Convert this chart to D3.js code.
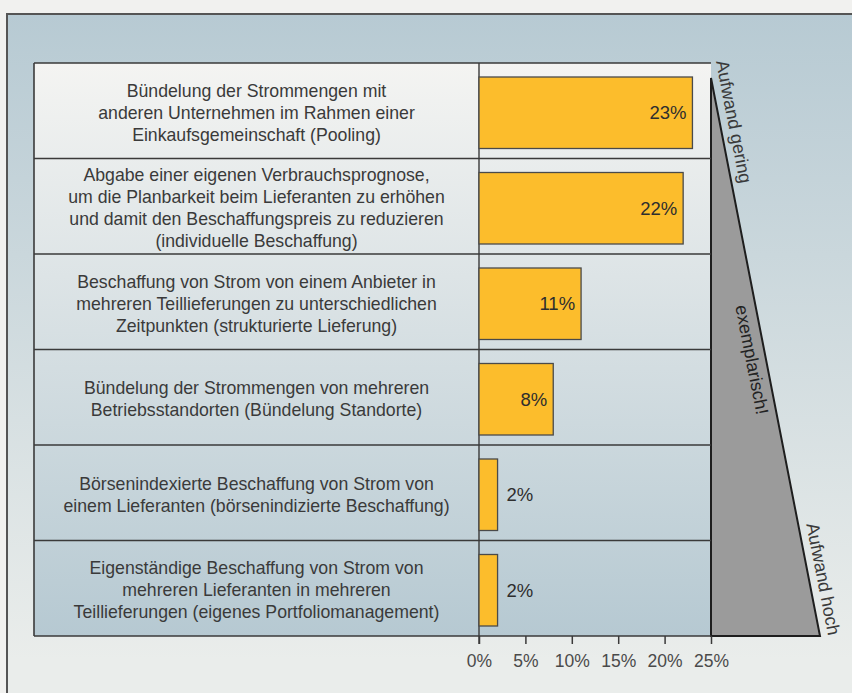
<!DOCTYPE html>
<html>
<head>
<meta charset="utf-8">
<script src="https://cdn.jsdelivr.net/npm/d3@7"></script>
<style>
    body { margin: 0; background: #f1f1ef; }
    svg { display: block; font-family: "Liberation Sans", Arial, sans-serif; }
    .row-label { fill: #3a3a3a; font-size: 17.7px; }
    .value { fill: #2e2e2e; font-size: 18.5px; }
    .x-axis text { fill: #4a4a4a; font-size: 17.5px; font-family: "Liberation Sans", Arial, sans-serif; }
    .x-axis line { stroke: #3a3a3a; stroke-width: 1.5; }
    .side-text { fill: #3a3a3a; font-size: 18px; }
</style>
</head>
<body>
<div class="container"></div>
<script>
var categories = [
    ["Bündelung der Strommengen mit", "anderen Unternehmen im Rahmen einer", "Einkaufsgemeinschaft (Pooling)"],
    ["Abgabe einer eigenen Verbrauchsprognose,", "um die Planbarkeit beim Lieferanten zu erhöhen", "und damit den Beschaffungspreis zu reduzieren", "(individuelle Beschaffung)"],
    ["Beschaffung von Strom von einem Anbieter in", "mehreren Teillieferungen zu unterschiedlichen", "Zeitpunkten (strukturierte Lieferung)"],
    ["Bündelung der Strommengen von mehreren", "Betriebsstandorten (Bündelung Standorte)"],
    ["Börsenindexierte Beschaffung von Strom von", "einem Lieferanten (börsenindizierte Beschaffung)"],
    ["Eigenständige Beschaffung von Strom von", "mehreren Lieferanten in mehreren", "Teillieferungen (eigenes Portfoliomanagement)"]
];
var values = [23, 22, 11, 8, 2, 2];
var ticks = [0, 5, 10, 15, 20, 25];
var sideLabels = ["Aufwand gering", "exemplarisch!", "Aufwand hoch"];

const WIDTH = 852;
const HEIGHT = 693;
const TABLE_LEFT = 34;
const PLOT_LEFT = 479;
const PLOT_RIGHT = 711;
const TABLE_TOP = 63;
const TABLE_BOTTOM = 636;
const WEDGE_TOP = 78;
const WEDGE_RIGHT = 820;
const LINE_COLOR = "#3a3a3a";

var svg = d3.select('.container').append('svg')
    .attr('width', WIDTH)
    .attr('height', HEIGHT);

var defs = svg.append('defs');

var panelGrad = defs.append('linearGradient')
    .attr('id', 'panelGrad')
    .attr('gradientUnits', 'userSpaceOnUse')
    .attr('x1', 0).attr('y1', 14).attr('x2', 0).attr('y2', 660);
panelGrad.append('stop').attr('offset', '0%').attr('stop-color', '#b7cad3');
panelGrad.append('stop').attr('offset', '100%').attr('stop-color', '#eaedeb');

var tableGrad = defs.append('linearGradient')
    .attr('id', 'tableGrad')
    .attr('gradientUnits', 'userSpaceOnUse')
    .attr('x1', 0).attr('y1', TABLE_TOP).attr('x2', 0).attr('y2', TABLE_BOTTOM);
tableGrad.append('stop').attr('offset', '0%').attr('stop-color', '#f4f4f2');
tableGrad.append('stop').attr('offset', '100%').attr('stop-color', '#b6c9d2');

// outer panel
svg.append('rect')
    .attr('x', 7).attr('y', 14)
    .attr('width', WIDTH).attr('height', HEIGHT)
    .attr('fill', 'url(#panelGrad)');
svg.append('path')
    .attr('d', 'M7,' + HEIGHT + 'V14H' + WIDTH)
    .attr('fill', 'none')
    .attr('stroke', '#555')
    .attr('stroke-width', 2);

var xScale = d3.scaleLinear()
    .domain([0, 25])
    .range([PLOT_LEFT, PLOT_RIGHT]);

var yScale = d3.scaleBand()
    .domain(d3.range(categories.length))
    .range([TABLE_TOP, TABLE_BOTTOM]);

// table background
svg.append('rect')
    .attr('x', TABLE_LEFT).attr('y', TABLE_TOP)
    .attr('width', PLOT_RIGHT - TABLE_LEFT)
    .attr('height', TABLE_BOTTOM - TABLE_TOP)
    .attr('fill', 'url(#tableGrad)');

// wedge on the right
var wedge = [[PLOT_RIGHT, WEDGE_TOP], [PLOT_RIGHT, TABLE_BOTTOM], [WEDGE_RIGHT, TABLE_BOTTOM]];
svg.append('path')
    .attr('d', d3.line()(wedge) + 'Z')
    .attr('fill', '#9b9b9b')
    .attr('stroke', '#1e1e1e')
    .attr('stroke-width', 2)
    .attr('stroke-linejoin', 'miter');

// row lines
svg.selectAll('line.row-line')
    .data(d3.range(categories.length + 1))
    .enter().append('line')
    .attr('class', 'row-line')
    .attr('x1', TABLE_LEFT)
    .attr('x2', PLOT_RIGHT)
    .attr('y1', function (i) { return i < categories.length ? yScale(i) : TABLE_BOTTOM; })
    .attr('y2', function (i) { return i < categories.length ? yScale(i) : TABLE_BOTTOM; })
    .attr('stroke', LINE_COLOR)
    .attr('stroke-width', 1.6);

svg.append('line')
    .attr('x1', TABLE_LEFT).attr('x2', TABLE_LEFT)
    .attr('y1', TABLE_TOP).attr('y2', TABLE_BOTTOM)
    .attr('stroke', LINE_COLOR).attr('stroke-width', 1.6);

svg.append('line')
    .attr('x1', PLOT_LEFT).attr('x2', PLOT_LEFT)
    .attr('y1', TABLE_TOP).attr('y2', TABLE_BOTTOM + 8)
    .attr('stroke', LINE_COLOR).attr('stroke-width', 1.4);

// category labels
var LINE_GAP = 22;
var labelGroups = svg.selectAll('text.row-label')
    .data(categories)
    .enter().append('text')
    .attr('class', 'row-label')
    .attr('text-anchor', 'middle');

labelGroups.each(function (lines, i) {
    var cy = yScale(i) + yScale.bandwidth() / 2 + 1.5;
    var startY = cy - (lines.length - 1) * LINE_GAP / 2;
    d3.select(this).selectAll('tspan')
        .data(lines)
        .enter().append('tspan')
        .attr('x', (TABLE_LEFT + PLOT_LEFT) / 2)
        .attr('y', function (l, j) { return startY + j * LINE_GAP; })
        .attr('dy', '0.36em')
        .text(function (l) { return l; });
});

// bars
svg.selectAll('rect.bar')
    .data(values)
    .enter().append('rect')
    .attr('class', 'bar')
    .attr('x', xScale(0))
    .attr('y', function (v, i) { return yScale(i) + 14; })
    .attr('width', function (v) { return xScale(v) - xScale(0); })
    .attr('height', yScale.bandwidth() - 24)
    .attr('fill', '#fcbd2c')
    .attr('stroke', '#4a4a4a')
    .attr('stroke-width', 1.3);

svg.selectAll('text.value')
    .data(values)
    .enter().append('text')
    .attr('class', 'value')
    .attr('x', function (v) { return v > 5 ? xScale(v) - 6 : xScale(v) + 9; })
    .attr('y', function (v, i) { return yScale(i) + 14 + (yScale.bandwidth() - 24) / 2; })
    .attr('dy', '0.36em')
    .attr('text-anchor', function (v) { return v > 5 ? 'end' : 'start'; })
    .text(function (v) { return v + '%'; });

// x axis
var xAxis = d3.axisBottom(xScale)
    .tickValues(ticks)
    .tickSize(8)
    .tickPadding(11)
    .tickFormat(function (d) { return d + '%'; });

var axisG = svg.append('g')
    .attr('class', 'x-axis')
    .attr('transform', 'translate(0,' + TABLE_BOTTOM + ')')
    .call(xAxis);
axisG.select('.domain').remove();

// slanted side labels follow the wedge edge
var dx = WEDGE_RIGHT - PLOT_RIGHT;
var dy = TABLE_BOTTOM - WEDGE_TOP;
var len = Math.sqrt(dx * dx + dy * dy);
var angle = Math.atan2(dy, dx) * 180 / Math.PI;
var nx = dy / len, ny = -dx / len;

var alongEdge = function (t, offset) {
    return [PLOT_RIGHT + dx * t + nx * offset, WEDGE_TOP + dy * t + ny * offset];
};

var sidePos = [
    { t: -0.027, off: 8, anchor: 'start', baseline: 'auto' },
    { t: 0.5, off: -14, anchor: 'middle', baseline: 'central' },
    { t: 1.003, off: 8, anchor: 'end', baseline: 'auto' }
];

svg.selectAll('text.side-text')
    .data(sideLabels)
    .enter().append('text')
    .attr('class', 'side-text')
    .attr('text-anchor', function (s, i) { return sidePos[i].anchor; })
    .attr('dominant-baseline', function (s, i) { return sidePos[i].baseline; })
    .attr('transform', function (s, i) {
        var p = alongEdge(sidePos[i].t, sidePos[i].off);
        return 'translate(' + p[0] + ',' + p[1] + ') rotate(' + angle + ')';
    })
    .style('fill', function (s, i) { return i == 1 ? '#222' : '#3a3a3a'; })
    .text(function (s) { return s; });
</script>
</body>
</html>
